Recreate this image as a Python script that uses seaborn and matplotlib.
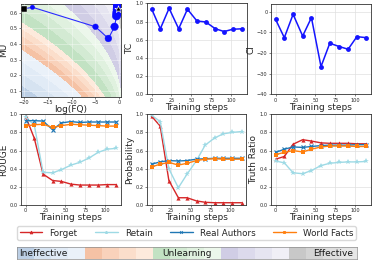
import numpy as np
import pandas as pd
import matplotlib
matplotlib.use("Agg")
import matplotlib.pyplot as plt
import seaborn as sns
from matplotlib.lines import Line2D

# ---------------- data ----------------
steps = [0, 11, 22, 34, 45, 57, 68, 80, 91, 102, 114]

# panel 1: trajectory in (log FQ, MU)
traj_logfq = [-18.2, -5.0, -2.3, -1.0, -0.6, -0.45, -0.3, -0.2, -0.12, -0.06]
traj_mu = [0.635, 0.51, 0.435, 0.51, 0.58, 0.60, 0.62, 0.635, 0.645, 0.655]
start_logfq, start_mu = -20.0, 0.625
target_logfq, target_mu = -0.2, 0.627

tc = [0.94, 0.72, 0.945, 0.72, 0.935, 0.805, 0.795, 0.72, 0.69, 0.715, 0.72]
ci = [-3.7, -12.6, -1.3, -11.8, -2.9, -26.6, -15.3, -16.9, -18.2, -12.1, -12.6]

series_names = ["Forget", "Retain", "Real Authors", "World Facts"]
rouge = {
    "Forget": [0.98, 0.735, 0.34, 0.27, 0.26, 0.23, 0.22, 0.22, 0.22, 0.225, 0.225],
    "Retain": [0.97, 0.88, 0.36, 0.355, 0.39, 0.44, 0.47, 0.52, 0.58, 0.615, 0.625],
    "Real Authors": [0.93, 0.93, 0.925, 0.83, 0.905, 0.92, 0.91, 0.915, 0.915, 0.915, 0.915],
    "World Facts": [0.87, 0.885, 0.89, 0.855, 0.875, 0.89, 0.885, 0.88, 0.875, 0.87, 0.87],
}
prob = {
    "Forget": [0.98, 0.87, 0.27, 0.08, 0.08, 0.045, 0.03, 0.025, 0.025, 0.025, 0.025],
    "Retain": [0.99, 0.92, 0.40, 0.19, 0.34, 0.49, 0.66, 0.74, 0.785, 0.80, 0.81],
    "Real Authors": [0.45, 0.475, 0.49, 0.485, 0.49, 0.505, 0.51, 0.515, 0.515, 0.515, 0.515],
    "World Facts": [0.42, 0.45, 0.47, 0.44, 0.46, 0.49, 0.505, 0.51, 0.505, 0.505, 0.505],
}
truth = {
    "Forget": [0.505, 0.535, 0.67, 0.72, 0.705, 0.685, 0.68, 0.68, 0.68, 0.675, 0.675],
    "Retain": [0.485, 0.465, 0.355, 0.345, 0.38, 0.435, 0.46, 0.47, 0.475, 0.475, 0.48],
    "Real Authors": [0.58, 0.615, 0.64, 0.635, 0.645, 0.655, 0.66, 0.66, 0.66, 0.665, 0.665],
    "World Facts": [0.555, 0.58, 0.60, 0.585, 0.615, 0.64, 0.65, 0.65, 0.65, 0.645, 0.645],
}

strip_labels = ["Ineffective", "Unlearning", "Effective"]

# ---------------- style ----------------
sns.set_style("whitegrid")
plt.rcParams["font.family"] = ["DejaVu Sans"]
plt.rcParams.update({
    "axes.edgecolor": "0.2",
    "axes.linewidth": 0.6,
    "grid.color": "0.88",
    "grid.linewidth": 0.5,
    "xtick.labelsize": 3.6,
    "ytick.labelsize": 3.6,
    "axes.labelsize": 6.5,
    "xtick.major.size": 1.5,
    "ytick.major.size": 1.5,
    "xtick.major.width": 0.4,
    "ytick.major.width": 0.4,
    "xtick.bottom": True,
    "ytick.left": True,
    "xtick.major.pad": 1.0,
    "ytick.major.pad": 1.0,
})

W, H = 374, 260
fig = plt.figure(figsize=(W / 100, H / 100), dpi=100)


def box(l, t, r, b):
    return [l / W, 1 - b / H, (r - l) / W, (b - t) / H]


colors_series = {"Forget": "#d62728", "Retain": "#9edae5",
                 "Real Authors": "#1f77b4", "World Facts": "#ff7f0e"}
markers_series = {"Forget": "^", "Retain": "*", "Real Authors": "x", "World Facts": "s"}

# band colors (ineffective -> effective)
band_colors = [
    "#bccfe5", "#d6e3f1", "#e1ebf6", "#eaf1f9",   # blue
    "#f5c2a5", "#f9d2bb", "#fbdecb", "#fdeadc",   # orange
    "#c2e2c3", "#d3ead3", "#e0f1df", "#ecf7eb",   # green
    "#d0cde5", "#dcdaec", "#e6e5f1", "#f0eff6",   # purple
    "#c8c8c8", "#d4d4d4", "#dedede", "#e6e6e6",   # gray
]

# ---------------- panel 1 ----------------
ax1 = fig.add_axes(box(21, 4, 121, 96.5))
xl = (-20.6, 0.35)
yl = (0.063, 0.656)
gx = np.linspace(xl[0], xl[1], 300)
gy = np.linspace(yl[0], yl[1], 300)
GX, GY = np.meshgrid(gx, gy)
A0 = (xl[1] - GX) / (xl[1] - xl[0])
B0 = (yl[1] - GY) / (yl[1] - yl[0])
Z = np.sqrt(A0) + 0.736 * B0
lev = np.concatenate([
    np.linspace(0.0, 0.3, 5)[:-1],
    np.linspace(0.3, 0.77, 5)[:-1],
    np.linspace(0.77, 1.147, 5)[:-1],
    np.linspace(1.147, 1.368, 5)[:-1],
    np.linspace(1.368, 1.75, 5),
])
ax1.contourf(GX, GY, Z, levels=lev, colors=band_colors[::-1], zorder=0)
ax1.grid(True, color="white", alpha=0.5, linewidth=0.5, zorder=0.5)
ax1.set_axisbelow(False)
line_x = [start_logfq] + traj_logfq
line_y = [start_mu] + traj_mu
sns.lineplot(x=line_x, y=line_y, ax=ax1, color="#2b2bff", linewidth=0.8,
             sort=False, estimator=None, zorder=3)
sns.scatterplot(x=traj_logfq, y=traj_mu, size=steps[1:], sizes=(10, 70),
                color="#0a0aff", edgecolor="#0a0aff", linewidth=0.3, ax=ax1,
                legend=False, zorder=4)
sns.scatterplot(x=[start_logfq], y=[start_mu], marker="s", s=14, color="black",
                ax=ax1, legend=False, zorder=5)
sns.scatterplot(x=[target_logfq], y=[target_mu], marker="*", s=30, color="black",
                ax=ax1, legend=False, zorder=5)
ax1.set_xlim(*xl)
ax1.set_ylim(*yl)
ax1.set_xticks([-20, -15, -10, -5, 0])
ax1.set_yticks([0.1, 0.2, 0.3, 0.4, 0.5, 0.6])
ax1.set_xlabel("log(FQ)", labelpad=0)
ax1.set_ylabel("MU", labelpad=1)

# ---------------- TC / CI ----------------
ax2 = fig.add_axes(box(147, 3.3, 247, 94.3))
sns.lineplot(x=steps, y=tc, ax=ax2, color="#1515ff", marker="o", markersize=3.5,
             markeredgewidth=0, linewidth=1.1)
ax2.set_ylim(0, 1.0)
ax2.set_yticks([0.0, 0.2, 0.4, 0.6, 0.8, 1.0])
ax2.set_ylabel("TC", labelpad=1)

ax3 = fig.add_axes(box(271, 4, 371, 94.3))
sns.lineplot(x=steps, y=ci, ax=ax3, color="#1515ff", marker="o", markersize=3.5,
             markeredgewidth=0, linewidth=1.1)
ax3.set_ylim(-40, 3.7)
ax3.set_yticks([-40, -30, -20, -10, 0])
ax3.set_ylabel("CI", labelpad=1)

for ax in (ax2, ax3):
    ax.set_xlim(-5.7, 119.7)
    ax.set_xticks([0, 25, 50, 75, 100])
    ax.set_xlabel("Training steps", labelpad=0)

# ---------------- bottom row ----------------
bottom = [("ROUGE", rouge, box(21, 114.3, 121, 205)),
          ("Probability", prob, box(147, 114.3, 246, 205)),
          ("Truth Ratio", truth, box(271, 114.3, 371, 205))]
for ylabel, data, pos in bottom:
    ax = fig.add_axes(pos)
    for name in series_names:
        mk = markers_series[name]
        sns.lineplot(x=steps, y=data[name], ax=ax, color=colors_series[name],
                     marker=mk, markersize=3.0 if mk != "*" else 3.8,
                     markeredgewidth=0.8 if mk == "x" else 0,
                     markeredgecolor=colors_series[name], linewidth=1.0)
    ax.set_xlim(-5.7, 119.7)
    ax.set_ylim(0, 1.0)
    ax.set_xticks([0, 25, 50, 75, 100])
    ax.set_yticks([0.0, 0.2, 0.4, 0.6, 0.8, 1.0])
    ax.set_xlabel("Training steps", labelpad=0)
    ax.set_ylabel(ylabel, labelpad=1)

# ---------------- legend ----------------
handles = [Line2D([0], [0], color=colors_series[n], marker=markers_series[n],
                  markersize=2.0, markeredgewidth=0.6, linewidth=1.0)
           for n in series_names]
fig.legend(handles, series_names, loc="center", ncol=4,
           bbox_to_anchor=(186.5 / W, 1 - 233 / H), fontsize=6.3, frameon=True,
           handlelength=2.6, handletextpad=0.8, columnspacing=2.0,
           borderpad=0.3, edgecolor="0.85", fancybox=True, framealpha=1)

# ---------------- strip ----------------
axs = fig.add_axes(box(17, 247, 357, 259))
axs.imshow(np.arange(len(band_colors))[None, :], aspect="auto",
           cmap=matplotlib.colors.ListedColormap(band_colors),
           extent=(0, len(band_colors), 0, 1))
axs.set_xticks([])
axs.set_yticks([])
axs.grid(False)
for s in axs.spines.values():
    s.set_color("0.55")
    s.set_linewidth(0.5)
axs.text(0.1, 0.45, strip_labels[0], ha="left", va="center", fontsize=6.5, color="0.1")
axs.text(10.0, 0.45, strip_labels[1], ha="center", va="center", fontsize=6.5, color="0.1")
axs.text(19.8, 0.45, strip_labels[2], ha="right", va="center", fontsize=6.5, color="0.1")

fig.savefig("out.png", dpi=100)
